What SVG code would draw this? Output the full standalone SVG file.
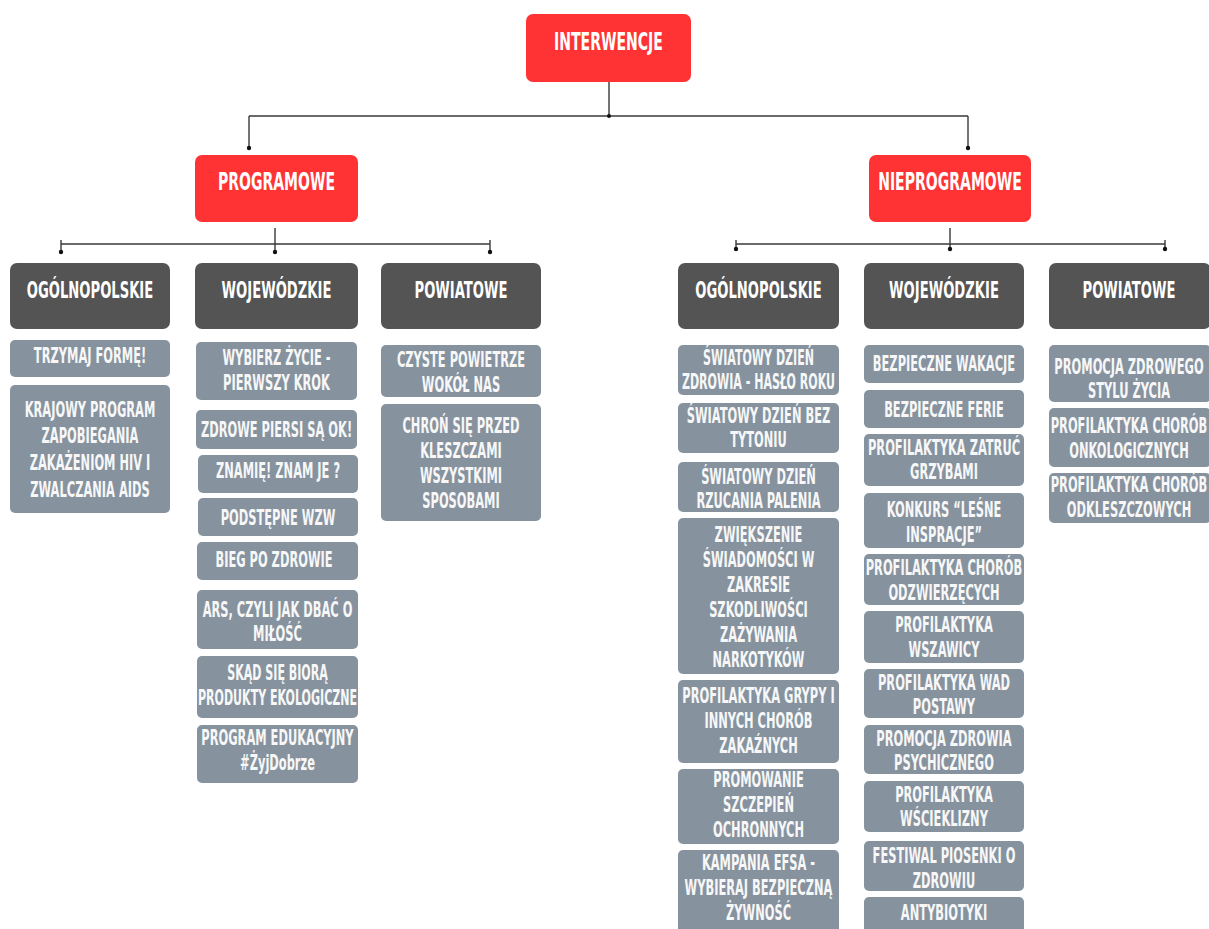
<svg xmlns="http://www.w3.org/2000/svg" width="1209" height="929" viewBox="0 0 1209 929">
<style>
.red{fill:#FF3333}
.hd{fill:#545454}
.it{fill:#86939F}
text{font-family:"DejaVu Sans Condensed","DejaVu Sans","Liberation Sans",sans-serif;font-weight:bold;fill:#FFFFFF;text-anchor:middle}
.tr{font-size:24px}
.th{font-size:22.5px}
.ti{font-size:20.5px;fill:#F7F7F7}
.ln{fill:none;stroke:#3A3A3A;stroke-width:1.4}
.dot{fill:#111}
</style>
<rect width="1209" height="929" fill="#FFFFFF"/>
<g id="connectors">
<path class="ln" d="M609,82V116M249,116H968M249,116V148M968,116V148"/>
<circle class="dot" cx="609" cy="116" r="2"/><circle class="dot" cx="249" cy="148" r="2.2"/><circle class="dot" cx="968" cy="148" r="2.2"/>
<path class="ln" d="M275,228V252M61,244H490M61,240V252M490,240V252"/>
<circle class="dot" cx="61" cy="252" r="2.2"/><circle class="dot" cx="275" cy="252" r="2.2"/><circle class="dot" cx="490" cy="252" r="2.2"/>
<path class="ln" d="M950,228V249M736,244H1165M736,240V249M1165,240V249"/>
<circle class="dot" cx="736" cy="249" r="2.2"/><circle class="dot" cx="950" cy="249" r="2.2"/><circle class="dot" cx="1165" cy="249" r="2.2"/>
</g>
<g id="interwencje"><rect class="red" x="526" y="14" width="165" height="68" rx="7"/><text class="tr" transform="matrix(.65 0 0 1 608.5 0)"><tspan x="0" y="50">INTERWENCJE</tspan></text></g>
<g id="programowe"><rect class="red" x="195" y="155" width="163" height="67" rx="7"/><text class="tr" transform="matrix(.65 0 0 1 276.5 0)"><tspan x="0" y="190">PROGRAMOWE</tspan></text></g>
<g id="nieprogramowe"><rect class="red" x="869" y="155" width="162" height="67" rx="7"/><text class="tr" transform="matrix(.65 0 0 1 950 0)"><tspan x="0" y="190">NIEPROGRAMOWE</tspan></text></g>

<g id="p-ogolnopolskie"><rect class="hd" x="10" y="263" width="160" height="66" rx="7"/><text class="th" transform="matrix(.65 0 0 1 90 0)"><tspan x="0" y="298">OGÓLNOPOLSKIE</tspan></text></g>
<g id="p-wojewodzkie"><rect class="hd" x="195" y="263" width="163" height="66" rx="7"/><text class="th" transform="matrix(.65 0 0 1 276.5 0)"><tspan x="0" y="298">WOJEWÓDZKIE</tspan></text></g>
<g id="p-powiatowe"><rect class="hd" x="381" y="263" width="160" height="66" rx="7"/><text class="th" transform="matrix(.65 0 0 1 461 0)"><tspan x="0" y="298">POWIATOWE</tspan></text></g>
<g id="n-ogolnopolskie"><rect class="hd" x="678" y="263" width="161" height="66" rx="7"/><text class="th" transform="matrix(.65 0 0 1 758.5 0)"><tspan x="0" y="298">OGÓLNOPOLSKIE</tspan></text></g>
<g id="n-wojewodzkie"><rect class="hd" x="864" y="263" width="160" height="66" rx="7"/><text class="th" transform="matrix(.65 0 0 1 944 0)"><tspan x="0" y="298">WOJEWÓDZKIE</tspan></text></g>
<g id="n-powiatowe"><rect class="hd" x="1049" y="263" width="162" height="66" rx="7"/><text class="th" transform="matrix(.65 0 0 1 1129 0)"><tspan x="0" y="298">POWIATOWE</tspan></text></g>

<!-- programowe / ogolnopolskie -->
<g id="p1a"><rect class="it" x="10" y="340" width="160" height="37" rx="5"/><text class="ti" transform="matrix(.62 0 0 1 90 0)"><tspan x="0" y="363">TRZYMAJ FORMĘ!</tspan></text></g>
<g id="p1b"><rect class="it" x="10" y="385" width="160" height="128" rx="5"/><text class="ti" transform="matrix(.62 0 0 1 90 0)"><tspan x="0" y="417">KRAJOWY PROGRAM</tspan><tspan x="0" y="443">ZAPOBIEGANIA</tspan><tspan x="0" y="470">ZAKAŻENIOM HIV I</tspan><tspan x="0" y="497">ZWALCZANIA AIDS</tspan></text></g>

<!-- programowe / wojewodzkie -->
<g id="p2a"><rect class="it" x="196" y="342" width="161" height="58" rx="5"/><text class="ti" transform="matrix(.62 0 0 1 276.5 0)"><tspan x="0" y="365">WYBIERZ ŻYCIE -</tspan><tspan x="0" y="390">PIERWSZY KROK</tspan></text></g>
<g id="p2b"><rect class="it" x="196" y="410" width="161" height="39" rx="5"/><text class="ti" transform="matrix(.62 0 0 1 276.5 0)"><tspan x="0" y="437">ZDROWE PIERSI SĄ OK!</tspan></text></g>
<g id="p2c"><rect class="it" x="198" y="455" width="160" height="38" rx="5"/><text class="ti" transform="matrix(.62 0 0 1 278 0)"><tspan x="0" y="478">ZNAMIĘ! ZNAM JE ?</tspan></text></g>
<g id="p2d"><rect class="it" x="198" y="498" width="160" height="38" rx="5"/><text class="ti" transform="matrix(.62 0 0 1 278 0)"><tspan x="0" y="525">PODSTĘPNE WZW</tspan></text></g>
<g id="p2e"><rect class="it" x="197" y="542" width="161" height="38" rx="5"/><text class="ti" transform="matrix(.62 0 0 1 274 0)"><tspan x="0" y="567">BIEG PO ZDROWIE</tspan></text></g>
<g id="p2f"><rect class="it" x="197" y="590" width="161" height="59" rx="5"/><text class="ti" transform="matrix(.62 0 0 1 277.5 0)"><tspan x="0" y="617">ARS, CZYLI JAK DBAĆ O</tspan><tspan x="0" y="641">MIŁOŚĆ</tspan></text></g>
<g id="p2g"><rect class="it" x="197" y="656" width="161" height="62" rx="5"/><text class="ti" transform="matrix(.6 0 0 1 277.5 0)"><tspan x="0" y="680">SKĄD SIĘ BIORĄ</tspan><tspan x="0" y="705">PRODUKTY EKOLOGICZNE</tspan></text></g>
<g id="p2h"><rect class="it" x="197" y="725" width="161" height="58" rx="5"/><text class="ti" transform="matrix(.62 0 0 1 277.5 0)"><tspan x="0" y="745">PROGRAM EDUKACYJNY</tspan><tspan x="0" y="770">#ŻyjDobrze</tspan></text></g>

<!-- programowe / powiatowe -->
<g id="p3a"><rect class="it" x="381" y="345" width="160" height="52" rx="5"/><text class="ti" transform="matrix(.62 0 0 1 461 0)"><tspan x="0" y="367">CZYSTE POWIETRZE</tspan><tspan x="0" y="392">WOKÓŁ NAS</tspan></text></g>
<g id="p3b"><rect class="it" x="381" y="404" width="160" height="117" rx="5"/><text class="ti" transform="matrix(.62 0 0 1 461 0)"><tspan x="0" y="433">CHROŃ SIĘ PRZED</tspan><tspan x="0" y="458">KLESZCZAMI</tspan><tspan x="0" y="483">WSZYSTKIMI</tspan><tspan x="0" y="508">SPOSOBAMI</tspan></text></g>

<!-- nieprogramowe / ogolnopolskie -->
<g id="n1a"><rect class="it" x="678" y="345" width="161" height="50" rx="5"/><text class="ti" transform="matrix(.6 0 0 1 758.5 0)"><tspan x="0" y="365">ŚWIATOWY DZIEŃ</tspan><tspan x="0" y="389">ZDROWIA - HASŁO ROKU</tspan></text></g>
<g id="n1b"><rect class="it" x="678" y="403" width="161" height="50" rx="5"/><text class="ti" transform="matrix(.62 0 0 1 758.5 0)"><tspan x="0" y="423">ŚWIATOWY DZIEŃ BEZ</tspan><tspan x="0" y="447">TYTONIU</tspan></text></g>
<g id="n1c"><rect class="it" x="678" y="462" width="161" height="50" rx="5"/><text class="ti" transform="matrix(.62 0 0 1 758.5 0)"><tspan x="0" y="484">ŚWIATOWY DZIEŃ</tspan><tspan x="0" y="508">RZUCANIA PALENIA</tspan></text></g>
<g id="n1d"><rect class="it" x="678" y="518" width="161" height="156" rx="5"/><text class="ti" transform="matrix(.62 0 0 1 758.5 0)"><tspan x="0" y="542">ZWIĘKSZENIE</tspan><tspan x="0" y="567">ŚWIADOMOŚCI W</tspan><tspan x="0" y="592">ZAKRESIE</tspan><tspan x="0" y="617">SZKODLIWOŚCI</tspan><tspan x="0" y="642">ZAŻYWANIA</tspan><tspan x="0" y="667">NARKOTYKÓW</tspan></text></g>
<g id="n1e"><rect class="it" x="678" y="680" width="161" height="83" rx="5"/><text class="ti" transform="matrix(.62 0 0 1 758.5 0)"><tspan x="0" y="703">PROFILAKTYKA GRYPY I</tspan><tspan x="0" y="728">INNYCH CHORÓB</tspan><tspan x="0" y="753">ZAKAŹNYCH</tspan></text></g>
<g id="n1f"><rect class="it" x="678" y="769" width="161" height="75" rx="5"/><text class="ti" transform="matrix(.62 0 0 1 758.5 0)"><tspan x="0" y="787">PROMOWANIE</tspan><tspan x="0" y="812">SZCZEPIEŃ</tspan><tspan x="0" y="837">OCHRONNYCH</tspan></text></g>
<g id="n1g"><rect class="it" x="678" y="850" width="161" height="85" rx="5"/><text class="ti" transform="matrix(.62 0 0 1 758.5 0)"><tspan x="0" y="870">KAMPANIA EFSA -</tspan><tspan x="0" y="895">WYBIERAJ BEZPIECZNĄ</tspan><tspan x="0" y="920">ŻYWNOŚĆ</tspan></text></g>

<!-- nieprogramowe / wojewodzkie -->
<g id="n2a"><rect class="it" x="864" y="345" width="160" height="38" rx="5"/><text class="ti" transform="matrix(.62 0 0 1 944 0)"><tspan x="0" y="371">BEZPIECZNE WAKACJE</tspan></text></g>
<g id="n2b"><rect class="it" x="864" y="390" width="160" height="38" rx="5"/><text class="ti" transform="matrix(.62 0 0 1 944 0)"><tspan x="0" y="417">BEZPIECZNE FERIE</tspan></text></g>
<g id="n2c"><rect class="it" x="864" y="434" width="160" height="52" rx="5"/><text class="ti" transform="matrix(.62 0 0 1 944 0)"><tspan x="0" y="455">PROFILAKTYKA ZATRUĆ</tspan><tspan x="0" y="479">GRZYBAMI</tspan></text></g>
<g id="n2d"><rect class="it" x="864" y="493" width="160" height="55" rx="5"/><text class="ti" transform="matrix(.62 0 0 1 944 0)"><tspan x="0" y="517">KONKURS “LEŚNE</tspan><tspan x="0" y="542">INSPRACJE”</tspan></text></g>
<g id="n2e"><rect class="it" x="864" y="554" width="160" height="51" rx="5"/><text class="ti" transform="matrix(.62 0 0 1 944 0)"><tspan x="0" y="575">PROFILAKTYKA CHORÓB</tspan><tspan x="0" y="600">ODZWIERZĘCYCH</tspan></text></g>
<g id="n2f"><rect class="it" x="864" y="611" width="160" height="52" rx="5"/><text class="ti" transform="matrix(.62 0 0 1 944 0)"><tspan x="0" y="632">PROFILAKTYKA</tspan><tspan x="0" y="657">WSZAWICY</tspan></text></g>
<g id="n2g"><rect class="it" x="864" y="669" width="160" height="49" rx="5"/><text class="ti" transform="matrix(.62 0 0 1 944 0)"><tspan x="0" y="690">PROFILAKTYKA WAD</tspan><tspan x="0" y="714">POSTAWY</tspan></text></g>
<g id="n2h"><rect class="it" x="864" y="725" width="160" height="49" rx="5"/><text class="ti" transform="matrix(.62 0 0 1 944 0)"><tspan x="0" y="746">PROMOCJA ZDROWIA</tspan><tspan x="0" y="770">PSYCHICZNEGO</tspan></text></g>
<g id="n2i"><rect class="it" x="864" y="781" width="160" height="51" rx="5"/><text class="ti" transform="matrix(.62 0 0 1 944 0)"><tspan x="0" y="802">PROFILAKTYKA</tspan><tspan x="0" y="826">WŚCIEKLIZNY</tspan></text></g>
<g id="n2j"><rect class="it" x="864" y="841" width="160" height="50" rx="5"/><text class="ti" transform="matrix(.62 0 0 1 944 0)"><tspan x="0" y="863">FESTIWAL PIOSENKI O</tspan><tspan x="0" y="888">ZDROWIU</tspan></text></g>
<g id="n2k"><rect class="it" x="864" y="897" width="160" height="40" rx="5"/><text class="ti" transform="matrix(.62 0 0 1 944 0)"><tspan x="0" y="920">ANTYBIOTYKI</tspan></text></g>

<!-- nieprogramowe / powiatowe -->
<g id="n3a"><rect class="it" x="1049" y="345" width="162" height="57" rx="5"/><text class="ti" transform="matrix(.62 0 0 1 1129 0)"><tspan x="0" y="374">PROMOCJA ZDROWEGO</tspan><tspan x="0" y="398">STYLU ŻYCIA</tspan></text></g>
<g id="n3b"><rect class="it" x="1049" y="408" width="162" height="59" rx="5"/><text class="ti" transform="matrix(.62 0 0 1 1129 0)"><tspan x="0" y="433">PROFILAKTYKA CHORÓB</tspan><tspan x="0" y="458">ONKOLOGICZNYCH</tspan></text></g>
<g id="n3c"><rect class="it" x="1049" y="473" width="162" height="50" rx="5"/><text class="ti" transform="matrix(.62 0 0 1 1129 0)"><tspan x="0" y="492">PROFILAKTYKA CHORÓB</tspan><tspan x="0" y="517">ODKLESZCZOWYCH</tspan></text></g>
</svg>
